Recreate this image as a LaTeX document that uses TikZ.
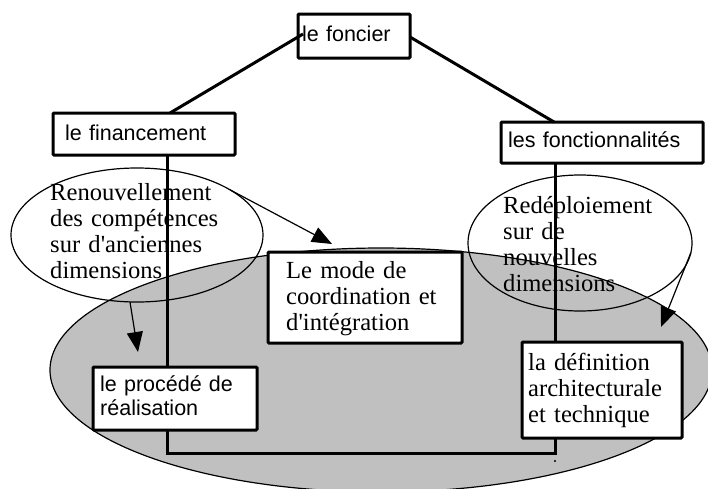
\documentclass[tikz,border=0pt]{standalone}
\usepackage{fontspec}
\newfontfamily\boxsans{Liberation Sans}
\newfontfamily\boxserif{Liberation Serif}
\usetikzlibrary{shapes.geometric, arrows.meta}
\definecolor{zonegray}{RGB}{192,192,192}

% labels are set as ragged-right paragraphs, anchored at the baseline of their first line
\tikzset{
  box/.style={draw, line width=3pt, fill=white, inner sep=0pt, outer sep=0pt,
              anchor=north west, rounded corners=1pt},
  sanstext/.style={font=\boxsans\fontsize{21.5}{24}\selectfont, align=left,
                   text width=190pt, inner sep=0pt, anchor=base west},
  seriftext/.style={font=\boxserif\fontsize{24.6}{26}\selectfont, align=left,
                    text width=200pt, inner sep=0pt, anchor=base west},
  bubble/.style={ellipse, draw, line width=1.2pt, inner sep=0pt, outer sep=0pt},
  link/.style={line width=3pt},
  pointer/.style={line width=1.2pt, -{Triangle[length=20pt, width=16pt]}}
}

\begin{document}
\begin{tikzpicture}[x=1pt, y=-1pt]
\useasboundingbox (0,0) rectangle (708,488);

% shaded zone
\node[bubble, fill=zonegray, minimum width=662pt, minimum height=244pt] (zone) at (381,370) {};

% frame joining the two branches
\node[box, minimum width=182pt, minimum height=42pt] (fin) at (53,113) {};
\node[box, minimum width=202pt, minimum height=41pt] (fct) at (501,122) {};
\coordinate (bl) at (167,453);
\coordinate (br) at (555,453);
\draw[link] (fin.south -| bl) -- (bl) -- (br) -- (fct.south -| br);
\fill (555,461) circle (1.2pt);

% bubbles
\node[bubble, minimum width=252pt, minimum height=134pt] (renE) at (137,235) {};
\node[bubble, minimum width=224pt, minimum height=136pt] (redE) at (580,243) {};
\node[seriftext] (renT) at (50,200) {Renouvellement\\des compétences\\sur d'anciennes\\dimensions};
\node[seriftext] (redT) at (503,213) {Redéploiement\\sur de\\nouvelles\\dimensions};

% boxes
\node[box, minimum width=112pt, minimum height=44pt] (fon) at (298,14) {};
\node[box, minimum width=164pt, minimum height=63pt] (proc) at (93,367) {};
\node[box, minimum width=194pt, minimum height=91pt] (mode) at (268,252) {};
\node[box, minimum width=160pt, minimum height=96pt] (def) at (522,342) {};

\node[sanstext] (fonT) at (302,41) {le foncier};
\node[sanstext] (finT) at (65,140) {le financement};
\node[sanstext] (fctT) at (508,147) {les fonctionnalités};
\node[sanstext] (procT) at (100,391) {le procédé de\\réalisation};
\node[seriftext] (modeT) at (286,278) {Le mode de\\coordination et\\d'intégration};
\node[seriftext] (defT) at (528,370) {la définition\\architecturale\\et technique};

% links from the top box
\coordinate (fonL) at (303,34);
\coordinate (fonR) at (410,37);
\draw[link] (fin.north -| 170,0) -- (fonL);
\draw[link] (fonR) -- (fct.north -| 554,0);

% pointers
\coordinate (tipA) at (138,352);
\coordinate (tipB) at (332,244);
\coordinate (tipC) at (661,327);
\draw[pointer] (renE.-96) -- (tipA);
\draw[pointer] (renE.26) -- (tipB);
\draw[pointer] (redE.-5) -- (tipC);
\end{tikzpicture}
\end{document}
